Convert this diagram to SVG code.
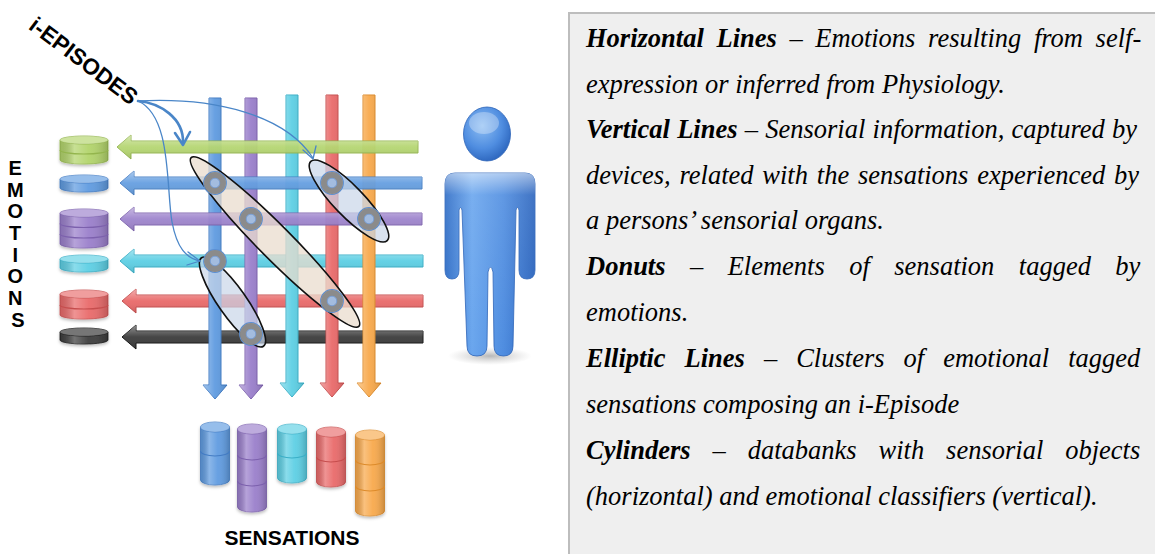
<svg xmlns="http://www.w3.org/2000/svg" xmlns:xlink="http://www.w3.org/1999/xlink" width="1155" height="554" viewBox="0 0 1155 554">
  <style>
    .lbl { font-family: "Liberation Sans", Arial, sans-serif; font-weight: bold; fill: #000; }
    .legend { font-family: "Liberation Serif", "Times New Roman", serif; font-style: italic; font-size: 26.5px; fill: #000; }
    .legend .b { font-weight: bold; }
    .green  { fill: #b2d46b; stroke: #93b54d; }
    .blue   { fill: #5f9be0; stroke: #437cc4; }
    .purple { fill: #9a7fcb; stroke: #7c61ad; }
    .cyan   { fill: #5dcfe4; stroke: #3aafc7; }
    .red    { fill: #e96a6a; stroke: #c64e4e; }
    .black  { fill: #3c3c3c; stroke: #151515; }
    .orange { fill: #f8a94c; stroke: #dd8b2b; }
    .arrow path { stroke-width: 1; }
    .band { fill: none; stroke-width: 1.2; }
    .topcap { stroke-width: 0.8; }
    .cluster { stroke: #111; stroke-width: 1.6; }
    .link { fill: none; stroke: #4a86c8; stroke-linecap: round; stroke-linejoin: round; }
  </style>
  <defs>
    <linearGradient id="glossH" x1="0" y1="0" x2="0" y2="1">
      <stop offset="0" stop-color="#fff" stop-opacity="0.45"/>
      <stop offset="0.5" stop-color="#fff" stop-opacity="0.05"/>
      <stop offset="1" stop-color="#000" stop-opacity="0.12"/>
    </linearGradient>
    <linearGradient id="glossV" x1="0" y1="0" x2="1" y2="0">
      <stop offset="0" stop-color="#fff" stop-opacity="0.4"/>
      <stop offset="0.5" stop-color="#fff" stop-opacity="0.05"/>
      <stop offset="1" stop-color="#000" stop-opacity="0.12"/>
    </linearGradient>
    <linearGradient id="cylShade" x1="0" y1="0" x2="1" y2="0">
      <stop offset="0" stop-color="#000" stop-opacity="0.12"/>
      <stop offset="0.3" stop-color="#fff" stop-opacity="0.28"/>
      <stop offset="0.6" stop-color="#fff" stop-opacity="0.05"/>
      <stop offset="1" stop-color="#000" stop-opacity="0.18"/>
    </linearGradient>
    <linearGradient id="personFill" x1="0" y1="0" x2="1" y2="0">
      <stop offset="0" stop-color="#2f6dc6"/>
      <stop offset="0.3" stop-color="#6aa6ee"/>
      <stop offset="0.65" stop-color="#4f8de0"/>
      <stop offset="1" stop-color="#2b64bd"/>
    </linearGradient>
    <linearGradient id="personGloss" x1="0" y1="0" x2="0" y2="1">
      <stop offset="0" stop-color="#fff" stop-opacity="0.55"/>
      <stop offset="0.12" stop-color="#fff" stop-opacity="0.1"/>
      <stop offset="1" stop-color="#fff" stop-opacity="0"/>
    </linearGradient>
    <radialGradient id="headFill" cx="0.4" cy="0.35" r="0.7">
      <stop offset="0" stop-color="#8cbdf3"/>
      <stop offset="0.6" stop-color="#4f8de0"/>
      <stop offset="1" stop-color="#2a63bb"/>
    </radialGradient>
    <radialGradient id="floorShadow" cx="0.5" cy="0.5" r="0.5">
      <stop offset="0" stop-color="#999" stop-opacity="0.7"/>
      <stop offset="1" stop-color="#bbb" stop-opacity="0"/>
    </radialGradient>
    <filter id="soft" x="-20%" y="-20%" width="140%" height="150%">
      <feDropShadow dx="0" dy="2" stdDeviation="1.5" flood-color="#000" flood-opacity="0.25"/>
    </filter>
    <g id="donut">
      <circle r="11.3" fill="none" stroke="#5b8fd3" stroke-width="1.2"/>
      <circle r="8" fill="#a3bcdf" stroke="#8b8b8b" stroke-width="6"/>
      <circle r="4.8" fill="none" stroke="#6d96cf" stroke-width="0.8"/>
    </g>
  </defs>

  <!-- Legend panel -->
  <g id="legend">
    <rect x="569" y="13" width="600" height="560" fill="#efefef" stroke="#bdbdbd" stroke-width="2"/>
    <text class="legend" x="586" y="47" style="word-spacing:6px"><tspan class="b">Horizontal Lines</tspan> – Emotions resulting from self-</text>
    <text class="legend" x="586" y="93">expression or inferred from Physiology.</text>
    <text class="legend" x="586" y="138" style="word-spacing:0.6px"><tspan class="b">Vertical Lines</tspan> – Sensorial information, captured by</text>
    <text class="legend" x="586" y="184" style="word-spacing:2.2px">devices, related with the sensations experienced by</text>
    <text class="legend" x="586" y="229">a persons’ sensorial organs.</text>
    <text class="legend" x="586" y="275" style="word-spacing:17.8px"><tspan class="b">Donuts</tspan> – Elements of sensation tagged by</text>
    <text class="legend" x="586" y="321">emotions.</text>
    <text class="legend" x="586" y="367" style="word-spacing:12.4px"><tspan class="b">Elliptic Lines</tspan> – Clusters of emotional tagged</text>
    <text class="legend" x="586" y="413">sensations composing an i-Episode</text>
    <text class="legend" x="586" y="459" style="word-spacing:15.3px"><tspan class="b">Cylinders</tspan> – databanks with sensorial objects</text>
    <text class="legend" x="586" y="505">(horizontal) and emotional classifiers (vertical).</text>
  </g>

  <!-- Emotion lines drawn beneath the sensation lines -->
  <g id="emotion-lines-back">
    <g id="emo-cyan" class="arrow cyan"><path id="hCyan" d="M120,261 L134,249 L134,255 L423,255 L423,267 L134,267 L134,273 Z"/><use href="#hCyan" fill="url(#glossH)" stroke="none"/></g>
    <g id="emo-red" class="arrow red"><path id="hRed" d="M122,301 L136,289 L136,295 L423,295 L423,307 L136,307 L136,313 Z"/><use href="#hRed" fill="url(#glossH)" stroke="none"/></g>
    <g id="emo-black" class="arrow black"><path id="hBlack" d="M122,337 L136,325 L136,331 L423,331 L423,343 L136,343 L136,349 Z"/><use href="#hBlack" fill="url(#glossH)" stroke="none"/></g>
  </g>

  <!-- Sensation lines (vertical, pointing down) -->
  <g id="sensation-lines">
    <g id="sen-blue" class="arrow blue"><path id="vBlue" d="M209,98 H221 V385 H227 L215,399 L203,385 H209 Z"/><use href="#vBlue" fill="url(#glossV)" stroke="none"/></g>
    <g id="sen-purple" class="arrow purple"><path id="vPurple" d="M245,98 H257 V385 H263 L251,399 L239,385 H245 Z"/><use href="#vPurple" fill="url(#glossV)" stroke="none"/></g>
    <g id="sen-cyan" class="arrow cyan"><path id="vCyan" d="M286,95 H298 V383 H304 L292,397 L280,383 H286 Z"/><use href="#vCyan" fill="url(#glossV)" stroke="none"/></g>
    <g id="sen-red" class="arrow red"><path id="vRed" d="M326,95 H338 V383 H344 L332,397 L320,383 H326 Z"/><use href="#vRed" fill="url(#glossV)" stroke="none"/></g>
    <g id="sen-orange" class="arrow orange"><path id="vOrange" d="M363,95 H375 V383 H381 L369,397 L357,383 H363 Z"/><use href="#vOrange" fill="url(#glossV)" stroke="none"/></g>
  </g>

  <!-- Emotion lines drawn over the sensation lines -->
  <g id="emotion-lines-front" opacity="0.95">
    <g id="emo-green" class="arrow green"><path id="hGreen" d="M117,147 L131,135 L131,141 L418,141 L418,153 L131,153 L131,159 Z"/><use href="#hGreen" fill="url(#glossH)" stroke="none"/></g>
    <g id="emo-blue" class="arrow blue"><path id="hBlue" d="M120,183 L134,171 L134,177 L422,177 L422,189 L134,189 L134,195 Z"/><use href="#hBlue" fill="url(#glossH)" stroke="none"/></g>
    <g id="emo-purple" class="arrow purple"><path id="hPurple" d="M120,219 L134,207 L134,213 L422,213 L422,225 L134,225 L134,231 Z"/><use href="#hPurple" fill="url(#glossH)" stroke="none"/></g>
  </g>

  <!-- Emotion databanks (left cylinders) -->
  <g id="emotion-banks" filter="url(#soft)">
    <g id="bank-green" class="green">
      <path d="M60,140 V160 A24,4 0 0 0 108,160 V140 Z" stroke-width="0.8"/>
      <path d="M60,140 V160 A24,4 0 0 0 108,160 V140 Z" fill="url(#cylShade)" stroke="none"/>
      <path class="band" d="M60,150 A24,4 0 0 0 108,150"/>
      <ellipse class="topcap" cx="84" cy="140" rx="24" ry="4"/>
      <ellipse cx="84" cy="140" rx="24" ry="4" fill="#fff" fill-opacity="0.35" stroke="none"/>
    </g>
    <g id="bank-blue" class="blue">
      <path d="M60,179 V188 A24,4 0 0 0 108,188 V179 Z" stroke-width="0.8"/>
      <path d="M60,179 V188 A24,4 0 0 0 108,188 V179 Z" fill="url(#cylShade)" stroke="none"/>
      <ellipse class="topcap" cx="84" cy="179" rx="24" ry="4"/>
      <ellipse cx="84" cy="179" rx="24" ry="4" fill="#fff" fill-opacity="0.35" stroke="none"/>
    </g>
    <g id="bank-purple" class="purple">
      <path d="M60,213 V244 A24,4 0 0 0 108,244 V213 Z" stroke-width="0.8"/>
      <path d="M60,213 V244 A24,4 0 0 0 108,244 V213 Z" fill="url(#cylShade)" stroke="none"/>
      <path class="band" d="M60,223.5 A24,4 0 0 0 108,223.5"/>
      <path class="band" d="M60,234 A24,4 0 0 0 108,234"/>
      <ellipse class="topcap" cx="84" cy="213" rx="24" ry="4"/>
      <ellipse cx="84" cy="213" rx="24" ry="4" fill="#fff" fill-opacity="0.35" stroke="none"/>
    </g>
    <g id="bank-cyan" class="cyan">
      <path d="M60,259 V268 A24,4 0 0 0 108,268 V259 Z" stroke-width="0.8"/>
      <path d="M60,259 V268 A24,4 0 0 0 108,268 V259 Z" fill="url(#cylShade)" stroke="none"/>
      <ellipse class="topcap" cx="84" cy="259" rx="24" ry="4"/>
      <ellipse cx="84" cy="259" rx="24" ry="4" fill="#fff" fill-opacity="0.35" stroke="none"/>
    </g>
    <g id="bank-red" class="red">
      <path d="M60,294 V315 A24,4 0 0 0 108,315 V294 Z" stroke-width="0.8"/>
      <path d="M60,294 V315 A24,4 0 0 0 108,315 V294 Z" fill="url(#cylShade)" stroke="none"/>
      <path class="band" d="M60,305 A24,4 0 0 0 108,305"/>
      <ellipse class="topcap" cx="84" cy="294" rx="24" ry="4"/>
      <ellipse cx="84" cy="294" rx="24" ry="4" fill="#fff" fill-opacity="0.35" stroke="none"/>
    </g>
    <g id="bank-black" class="black">
      <path d="M60,332 V340 A24,4 0 0 0 108,340 V332 Z" stroke-width="0.8"/>
      <path d="M60,332 V340 A24,4 0 0 0 108,340 V332 Z" fill="url(#cylShade)" stroke="none"/>
      <ellipse class="topcap" cx="84" cy="332" rx="24" ry="4"/>
      <ellipse cx="84" cy="332" rx="24" ry="4" fill="#fff" fill-opacity="0.3" stroke="none"/>
    </g>
  </g>

  <!-- Sensation databanks (bottom cylinders) -->
  <g id="sensation-banks" filter="url(#soft)">
    <g id="sbank-blue" class="blue">
      <path d="M200.5,427 V480 A14.5,5 0 0 0 229.5,480 V427 Z" stroke-width="0.8"/>
      <path d="M200.5,427 V480 A14.5,5 0 0 0 229.5,480 V427 Z" fill="url(#cylShade)" stroke="none"/>
      <path class="band" d="M200.5,451 A14.5,5 0 0 0 229.5,451"/>
      <ellipse class="topcap" cx="215" cy="427" rx="14.5" ry="5"/>
      <ellipse cx="215" cy="427" rx="14.5" ry="5" fill="#fff" fill-opacity="0.35" stroke="none"/>
    </g>
    <g id="sbank-purple" class="purple">
      <path d="M237.5,429 V507 A14.5,5 0 0 0 266.5,507 V429 Z" stroke-width="0.8"/>
      <path d="M237.5,429 V507 A14.5,5 0 0 0 266.5,507 V429 Z" fill="url(#cylShade)" stroke="none"/>
      <path class="band" d="M237.5,455 A14.5,5 0 0 0 266.5,455"/>
      <path class="band" d="M237.5,481 A14.5,5 0 0 0 266.5,481"/>
      <ellipse class="topcap" cx="252" cy="429" rx="14.5" ry="5"/>
      <ellipse cx="252" cy="429" rx="14.5" ry="5" fill="#fff" fill-opacity="0.35" stroke="none"/>
    </g>
    <g id="sbank-cyan" class="cyan">
      <path d="M277.5,429 V478 A14.5,5 0 0 0 306.5,478 V429 Z" stroke-width="0.8"/>
      <path d="M277.5,429 V478 A14.5,5 0 0 0 306.5,478 V429 Z" fill="url(#cylShade)" stroke="none"/>
      <path class="band" d="M277.5,453 A14.5,5 0 0 0 306.5,453"/>
      <ellipse class="topcap" cx="292" cy="429" rx="14.5" ry="5"/>
      <ellipse cx="292" cy="429" rx="14.5" ry="5" fill="#fff" fill-opacity="0.35" stroke="none"/>
    </g>
    <g id="sbank-red" class="red">
      <path d="M316.5,432 V482 A14.5,5 0 0 0 345.5,482 V432 Z" stroke-width="0.8"/>
      <path d="M316.5,432 V482 A14.5,5 0 0 0 345.5,482 V432 Z" fill="url(#cylShade)" stroke="none"/>
      <path class="band" d="M316.5,457 A14.5,5 0 0 0 345.5,457"/>
      <ellipse class="topcap" cx="331" cy="432" rx="14.5" ry="5"/>
      <ellipse cx="331" cy="432" rx="14.5" ry="5" fill="#fff" fill-opacity="0.35" stroke="none"/>
    </g>
    <g id="sbank-orange" class="orange">
      <path d="M355.5,435 V511 A14.5,5 0 0 0 384.5,511 V435 Z" stroke-width="0.8"/>
      <path d="M355.5,435 V511 A14.5,5 0 0 0 384.5,511 V435 Z" fill="url(#cylShade)" stroke="none"/>
      <path class="band" d="M355.5,460 A14.5,5 0 0 0 384.5,460"/>
      <path class="band" d="M355.5,486 A14.5,5 0 0 0 384.5,486"/>
      <ellipse class="topcap" cx="370" cy="435" rx="14.5" ry="5"/>
      <ellipse cx="370" cy="435" rx="14.5" ry="5" fill="#fff" fill-opacity="0.35" stroke="none"/>
    </g>
  </g>

  <!-- Clusters (elliptic lines) -->
  <g id="clusters">
    <ellipse id="cluster-main" class="cluster" cx="275" cy="242" rx="119" ry="16.5" transform="rotate(45.2 275 242)" fill="#e9dccd" fill-opacity="0.75"/>
    <ellipse id="cluster-upper" class="cluster" cx="349" cy="201" rx="55" ry="15" transform="rotate(46 349 201)" fill="#c9d5e8" fill-opacity="0.7"/>
    <ellipse id="cluster-lower" class="cluster" cx="232.5" cy="302" rx="54" ry="14" transform="rotate(55 232.5 302)" fill="#c9d5e8" fill-opacity="0.7"/>
  </g>

  <!-- Donuts: emotion-tagged sensation elements -->
  <g id="donuts">
    <g id="donut-1"><use href="#donut" x="215" y="183"/></g>
    <g id="donut-2"><use href="#donut" x="251" y="219"/></g>
    <g id="donut-3"><use href="#donut" x="332" y="183"/></g>
    <g id="donut-4"><use href="#donut" x="369" y="219"/></g>
    <g id="donut-5"><use href="#donut" x="215" y="261"/></g>
    <g id="donut-6"><use href="#donut" x="332" y="301"/></g>
    <g id="donut-7"><use href="#donut" x="251" y="334"/></g>
  </g>

  <!-- Person -->
  <g id="person">
    <ellipse cx="490" cy="356" rx="42" ry="9" fill="url(#floorShadow)"/>
    <path d="M455,173 H525 Q535,173 535,184 V270 Q535,279 527,279 Q519,279 519,270 V210 Q517.5,205 516,210 L513,346 Q513,356 503.5,356 Q494,356 494,346 L493,272 Q490.5,262 488,272 L487,346 Q487,356 477,356 Q467,356 467,346 L462,210 Q460.5,205 459,210 V270 Q459,279 452,279 Q445,279 445,270 V184 Q445,173 455,173 Z" fill="url(#personFill)" stroke="#2c63b8" stroke-width="0.8"/>
    <path d="M455,173 H525 Q535,173 535,184 V270 Q535,279 527,279 Q519,279 519,270 V210 Q517.5,205 516,210 L513,346 Q513,356 503.5,356 Q494,356 494,346 L493,272 Q490.5,262 488,272 L487,346 Q487,356 477,356 Q467,356 467,346 L462,210 Q460.5,205 459,210 V270 Q459,279 452,279 Q445,279 445,270 V184 Q445,173 455,173 Z" fill="url(#personGloss)"/>
    <ellipse cx="487" cy="134" rx="23.5" ry="27" fill="url(#headFill)" stroke="#2c63b8" stroke-width="0.8"/>
    <ellipse cx="484" cy="123" rx="15" ry="11" fill="#fff" fill-opacity="0.3"/>
  </g>

  <!-- Labels -->
  <g id="label-episodes">
    <text class="lbl" font-size="22.5" text-anchor="middle" transform="translate(79,67) rotate(37)">i-EPISODES</text>
  </g>
  <g id="label-emotions">
    <text class="lbl" font-size="20" text-anchor="middle">
      <tspan x="18" y="175">E</tspan>
      <tspan x="18" y="197">M</tspan>
      <tspan x="18" y="218">O</tspan>
      <tspan x="18" y="240">T</tspan>
      <tspan x="18" y="262">I</tspan>
      <tspan x="18" y="283">O</tspan>
      <tspan x="18" y="305">N</tspan>
      <tspan x="18" y="327">S</tspan>
    </text>
  </g>
  <g id="label-sensations">
    <text class="lbl" font-size="21" x="292" y="545" text-anchor="middle">SENSATIONS</text>
  </g>

  <!-- Connectors from the i-EPISODES label -->
  <g id="connectors">
    <path class="link" stroke-width="2.6" d="M138,101 C160,103 184,118 183,143"/>
    <path class="link" stroke-width="2.6" d="M175,133 L183,145 L190,132"/>
    <path class="link" stroke-width="1.3" d="M138,101 C215,97 285,115 313,158"/>
    <path class="link" stroke-width="1.3" d="M303,150 L313,159 L316,146"/>
    <path class="link" stroke-width="1.3" d="M138,101 C172,116 166,188 172,222 C177,248 186,258 200,261"/>
    <path class="link" stroke-width="1.3" d="M188,252 L200,261 L187,265"/>
  </g>
</svg>
